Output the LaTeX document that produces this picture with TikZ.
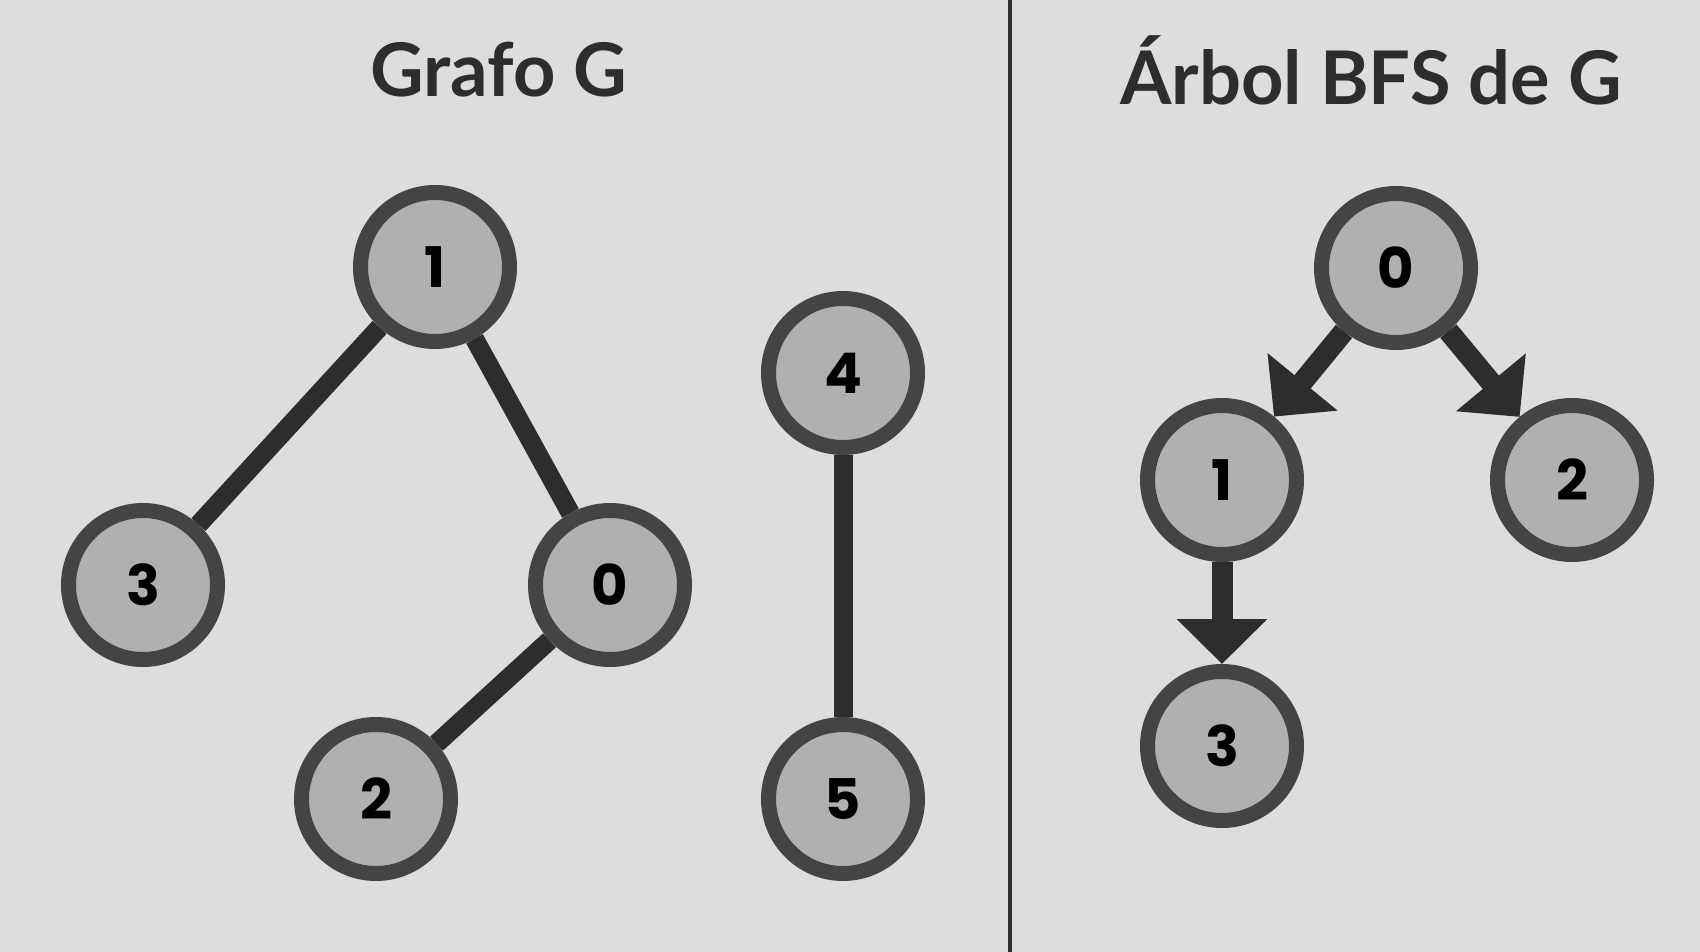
\documentclass[tikz,border=0pt]{standalone}
\usepackage{fontspec}
\setmainfont{Poppins}
\newfontfamily\titlefont{Lato}
\usetikzlibrary{arrows.meta}
\definecolor{bgcol}{HTML}{DDDDDD}
\definecolor{ringcol}{HTML}{444444}
\definecolor{nodecol}{HTML}{B0B0B0}
\definecolor{linkcol}{HTML}{2D2D2D}
\definecolor{titlecol}{HTML}{2D2D2D}

\begin{document}
\begin{tikzpicture}[x=1pt,y=-1pt,
  vertex/.style={circle, draw=ringcol, fill=nodecol, line width=15pt, minimum size=149pt, inner sep=0pt, font=\fontsize{56}{60}\selectfont\bfseries},
  link/.style={draw=linkcol, line width=19pt},
  arrow/.style={draw=linkcol, line width=21pt, -{Triangle[length=45pt,width=88pt]}},
  title/.style={font=\titlefont\fontsize{74}{80}\selectfont\bfseries, text=titlecol}
]
% background and divider
\useasboundingbox (0,0) rectangle (1700,952);
\fill[bgcol] (0,0) rectangle (1700,952);
\draw[linkcol, line width=4pt] (1010,0) -- (1010,952);

% titles
\node[title] (tg) at (499,70) {Grafo G};
\node[title] (tb) at (1371,70) {Árbol BFS de G};

% graph G
\node[vertex] (g1) at (435,267) {1};
\node[vertex] (g3) at (143,585) {3};
\node[vertex] (g0) at (610,585) {0};
\node[vertex] (g2) at (376,799) {2};
\node[vertex] (g4) at (843,373) {4};
\node[vertex] (g5) at (843,799) {5};

\draw[link] (g1) -- (g3);
\draw[link] (g1) -- (g0);
\draw[link] (g0) -- (g2);
\draw[link] (g4) -- (g5);

% BFS tree
\node[vertex] (t0) at (1396,268) {0};
\node[vertex] (t1) at (1222,480) {1};
\node[vertex] (t2) at (1572,480) {2};
\node[vertex] (t3) at (1222,746) {3};

\draw[arrow] (t0) -- (t1);
\draw[arrow] (t0) -- (t2);
\draw[arrow] (t1) -- (t3);
\end{tikzpicture}
\end{document}
